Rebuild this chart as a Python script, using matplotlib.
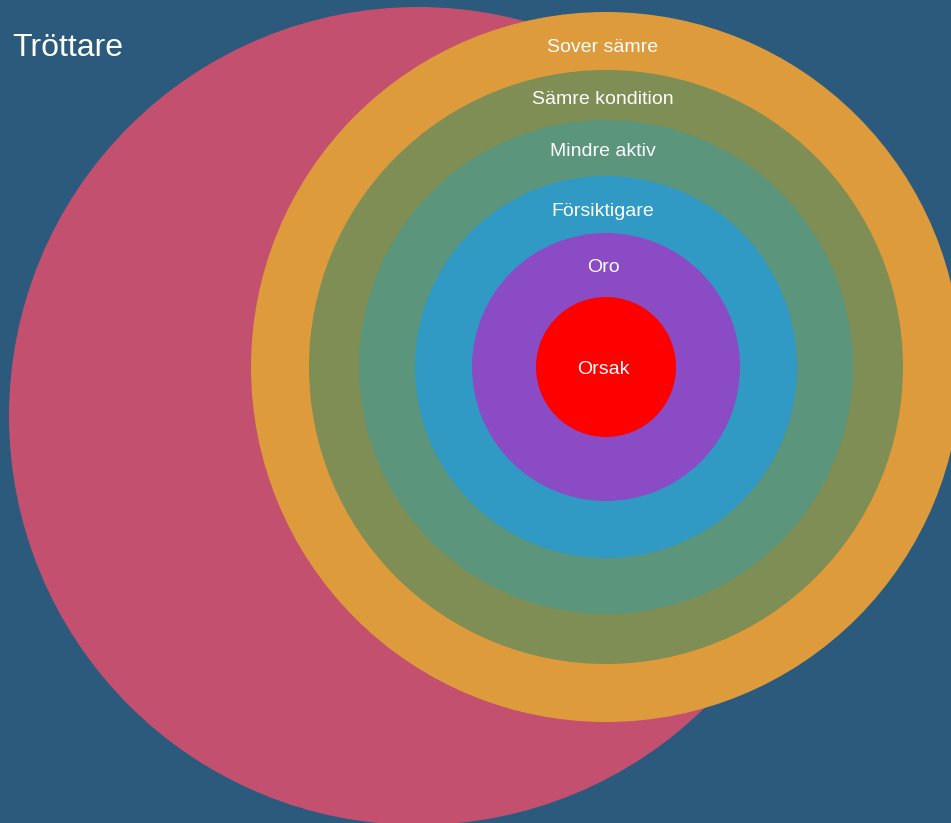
import matplotlib.pyplot as plt
from matplotlib.patches import Circle

plt.rcParams['font.family'] = ['Liberation Sans', 'DejaVu Sans']

# ringar: etikett, radie (px), färg
labels = ['Sover sämre', 'Sämre kondition', 'Mindre aktiv', 'Försiktigare', 'Oro', 'Orsak']
radii = [355, 297, 247, 191, 134, 70]
colors = ['#de9b3c', '#7e8e54', '#5a957c', '#309ac4', '#8a4bc4', '#ff0000']
# offset för etikett från ringens topp
label_offset = [35, 29, 31, 35, 35, None]

big_label = 'Tröttare'
big_radius = 409
big_color = '#c45070'
bg = '#2b5a7c'

W, H = 951, 823
fig = plt.figure(figsize=(W / 100, H / 100), dpi=100, facecolor=bg)
ax = fig.add_axes([0, 0, 1, 1])
ax.set_xlim(0, W)
ax.set_ylim(H, 0)
ax.set_facecolor(bg)
ax.axis('off')

# stora cirkeln
ax.add_patch(Circle((418, 416), big_radius, color=big_color, lw=0))
ax.text(12, 48, big_label, color='white', fontsize=23, ha='left', va='center')

cx, cy = 606, 367
for lab, r, c, off in zip(labels, radii, colors, label_offset):
    ax.add_patch(Circle((cx, cy), r, color=c, lw=0))
    y = cy + 2 if off is None else cy - r + off
    ax.text(cx - 3, y, lab, color='white', fontsize=14, ha='center', va='center')

plt.savefig('out.png', dpi=100, facecolor=bg)
